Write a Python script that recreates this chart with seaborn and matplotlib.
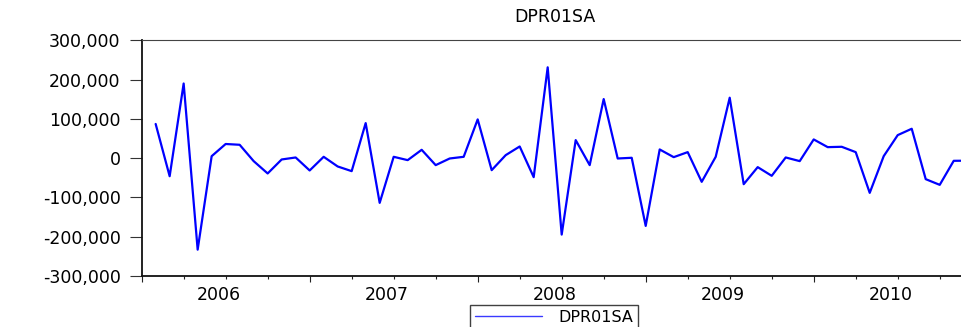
import numpy as np
import pandas as pd
import matplotlib
matplotlib.use("Agg")
import matplotlib.pyplot as plt
from matplotlib.lines import Line2D
import seaborn as sns

# Monthly first difference of PR01SA, 2006M01-2010M12 (first observation lost to differencing)
months = pd.date_range("2006-01-01", periods=60, freq="MS").strftime("%Y-%m").tolist()
dpr01sa = [
    np.nan, 87000, -46000, 190000, -233000, 5000, 36000, 34000, -7600, -39000, -3400, 1700,
    -31400, 3400, -21200, -33100, 89200, -113900, 3400, -5100, 21200, -17800, -900, 3400,
    98600, -30600, 7600, 29700, -48400, 231200, -194600, 45900, -17800, 150400, -900, 900,
    -172500, 22100, 2500, 15300, -60300, 3400, 153800, -66300, -22900, -45000, 1700, -7600,
    47600, 28000, 28900, 15300, -88400, 5100, 58600, 74800, -53500, -68000, -6800, -6500,
]
years = ["2006", "2007", "2008", "2009", "2010"]
y_ticks = [300000, 200000, 100000, 0, -100000, -200000, -300000]
y_tick_labels = ["300,000", "200,000", "100,000", "0", "-100,000", "-200,000", "-300,000"]
series_name = "DPR01SA"

df = pd.DataFrame({"month": months, "value": dpr01sa})
df["pos"] = np.arange(len(df))

sns.set_style("ticks")
plt.rcParams["font.family"] = ["DejaVu Sans"]
plt.rcParams["text.color"] = "black"
plt.rcParams["xtick.color"] = "black"
plt.rcParams["ytick.color"] = "black"

fig = plt.figure(figsize=(9.61, 3.27), dpi=100)
ax = fig.add_axes([0.1474, 0.156, 0.8596, 0.7208])

sns.lineplot(data=df, x="pos", y="value", color="#0000ff", linewidth=1.6, ax=ax, legend=False)

ax.set_xlim(0, len(df) - 1)
ax.set_ylim(-300000, 300000)

# y axis
ax.set_yticks(y_ticks)
ax.set_yticklabels(y_tick_labels, fontsize=12.5, color="black")
ax.tick_params(axis="y", direction="out", length=8.6, width=0.8, color="#333333", pad=6.5)

# x axis: long ticks at year starts, short ticks at quarter starts
year_starts = [12 * i for i in range(len(years))]
ax.set_xticks(year_starts)
ax.set_xticklabels([])
ax.set_xticks([q for q in range(0, len(df), 3) if q % 12], minor=True)
ax.tick_params(axis="x", which="major", direction="out", length=4.3, width=0.8, color="#222222")
ax.tick_params(axis="x", which="minor", direction="out", length=2.2, width=0.8, color="#222222")

# year labels centred over each year's observations
sec = ax.secondary_xaxis("bottom")
sec.set_xticks([s + 5.5 for s in year_starts])
sec.set_xticklabels(years, fontsize=12.5, color="black")
sec.tick_params(length=0, pad=7)
sec.spines["bottom"].set_visible(False)

ax.set_xlabel("")
ax.set_ylabel("")

for side in ("left", "bottom"):
    ax.spines[side].set_linewidth(1.3)
    ax.spines[side].set_color("#111111")
ax.spines["top"].set_visible(True)
ax.spines["top"].set_linewidth(0.8)
ax.spines["top"].set_color("#444444")
ax.spines["right"].set_visible(False)

ax.set_title(series_name, fontsize=12.5, pad=13, color="black")

handle = Line2D([], [], color="#3a3aff", linewidth=1.0)
leg = fig.legend([handle], [series_name], loc="upper center", bbox_to_anchor=(0.5765, 0.068),
                 frameon=True, fancybox=False, edgecolor="#111111", fontsize=11.5,
                 handlelength=4.2, handletextpad=1.0, borderpad=0.3, borderaxespad=0)
leg.get_frame().set_linewidth(1.0)

fig.savefig("out.png", dpi=100)
